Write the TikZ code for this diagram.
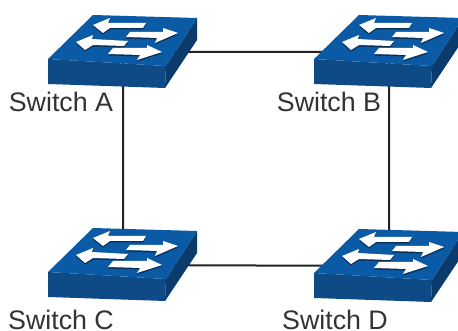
\documentclass[tikz,border=0pt]{standalone}
\usepackage{fontspec}
\setmainfont{Liberation Sans}
\definecolor{topblue}{HTML}{0B5AA5}
\definecolor{frontblue}{HTML}{0E4A85}
\definecolor{sideblue}{HTML}{0B3A6C}
\definecolor{arrowshade}{HTML}{0A2F55}
\definecolor{linkgray}{HTML}{222222}
\definecolor{labelgray}{HTML}{333333}
\tikzset{
    link/.style={draw=linkgray,line width=2pt},
    swlabel/.style={anchor=base,text=labelgray,font=\fontsize{26.8}{28}\selectfont,inner sep=0pt},
    pics/switch/.style={code={
        \fill[frontblue] (-75,7)--(43,14)--(42,36)--(-75,32)--cycle;
        \fill[sideblue] (43,14)--(74,-34)--(74,-12)--(42,36)--cycle;
        \fill[topblue] (-30,-37)--(74,-34)--(43,14)--(-75,7)--cycle;
        % arrows on the top face
        \foreach \dy/\sty in {1.5/arrowshade,0/white}
        {
            \begin{scope}[yshift=-\dy pt]
            \fill[\sty] (-30,-27)--(-13,-34)--(-15,-29)--(23,-29)--(20,-24)--(-13,-24)--(-20,-19)--cycle;
            \fill[\sty] (55,-19)--(40,-24)--(40,-20)--(7,-20)--(3,-15)--(34,-14)--(32,-9)--cycle;
            \fill[\sty] (-47,-10)--(-30,-17)--(-31,-13)--(5,-11)--(1,-6)--(-30,-7)--(-38,-2)--cycle;
            \fill[\sty] (39,0)--(24,-7)--(24,-4)--(-10,-4)--(-15,2)--(17,3)--(14,8)--cycle;
            \end{scope}
        }
    }}
}
\begin{document}
\begin{tikzpicture}[x=1pt,y=-1pt]
\useasboundingbox (0,0) rectangle (458,331);
\coordinate (swA) at (123,52);
\coordinate (swB) at (389,52);
\coordinate (swC) at (123,265);
\coordinate (swD) at (389,266);

\draw[link] (swA)--(swB)--(swD)--(swC)--cycle;

\foreach \name in {swA,swB,swC,swD}
{
    \pic at (\name) {switch};
}

\node[swlabel] (labA) at (61,112) {Switch A};
\node[swlabel] (labB) at (329,112) {Switch B};
\node[swlabel] (labC) at (61,329.5) {Switch C};
\node[swlabel] (labD) at (335,329.5) {Switch D};
\end{tikzpicture}
\end{document}
